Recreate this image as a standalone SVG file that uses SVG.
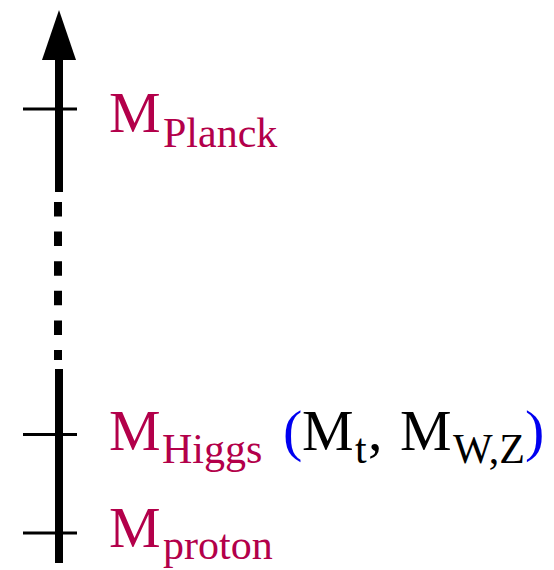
<svg xmlns="http://www.w3.org/2000/svg" width="554" height="570" viewBox="0 0 554 570">
<style>
.ax{stroke:#000;stroke-width:8;fill:none}
.tk{stroke:#000;stroke-width:3}
.t{font-family:"Liberation Serif","Times New Roman",serif;font-size:58px}
.s{font-size:42px}
.red{fill:#B3004A}
.blk{fill:#000}
.blu{fill:#0000F0}
</style>
<g id="connectors">
<polygon points="59,10 42,60 76,60" fill="#000"/>
<line class="ax" x1="59" y1="58" x2="59" y2="192"/>
<line class="ax" x1="58" y1="202" x2="58" y2="360" stroke-dasharray="14.5 15.1"/>
<line class="ax" x1="59" y1="369" x2="59" y2="563"/>
</g>
<g id="planck">
<line class="tk" x1="23" y1="109" x2="77" y2="109"/>
<text class="t red" x="109" y="132">M<tspan class="s" x="163" y="147">Planck</tspan></text>
</g>
<g id="higgs">
<line class="tk" x1="23" y1="434.5" x2="77" y2="434.5"/>
<text class="t" y="450"><tspan class="red" x="109">M</tspan><tspan class="red s" x="162" y="463">Higgs</tspan><tspan class="blu" x="283" y="450">(</tspan><tspan class="blk" x="302">M</tspan><tspan class="blk s" x="355" y="463">t</tspan><tspan class="blk" x="368" y="450">,</tspan><tspan class="blk" x="400">M</tspan><tspan class="blk s" x="453" y="463">W,Z</tspan><tspan class="blu" x="525" y="450">)</tspan></text>
</g>
<g id="proton">
<line class="tk" x1="23" y1="533" x2="77" y2="533"/>
<text class="t red" x="109" y="547">M<tspan class="s" x="163" y="559">proton</tspan></text>
</g>
</svg>
